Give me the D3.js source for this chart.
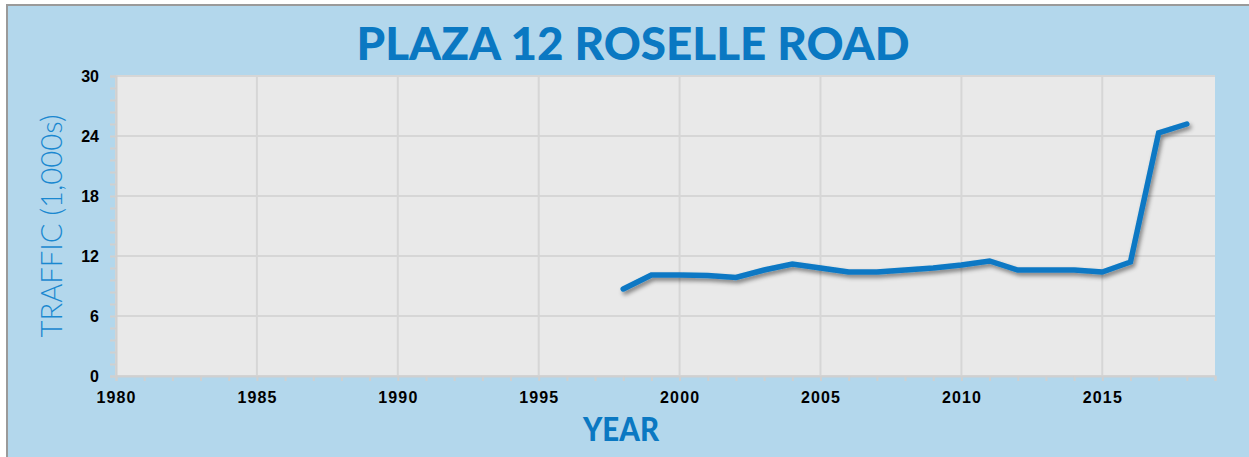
<!DOCTYPE html>
<html>
<head>
<meta charset="utf-8">
<script src="https://cdn.jsdelivr.net/npm/d3@7"></script>
<style>
  body { margin: 0; background: #fff; }
  svg { display: block; }
</style>
</head>
<body>
<svg id="chart" width="1249" height="457"></svg>
<script>
var title = "PLAZA 12 ROSELLE ROAD";
var years = [1998, 1999, 2000, 2001, 2002, 2003, 2004, 2005, 2006, 2007, 2008,
             2009, 2010, 2011, 2012, 2013, 2014, 2015, 2016, 2017, 2018];
var traffic = [8.7, 10.1, 10.1, 10.05, 9.85, 10.6, 11.2, 10.8, 10.4, 10.4, 10.6,
               10.8, 11.1, 11.5, 10.6, 10.6, 10.6, 10.4, 11.4, 24.3, 25.2];
var xTicks = [1980, 1985, 1990, 1995, 2000, 2005, 2010, 2015];
var yTicks = [0, 6, 12, 18, 24, 30];

var svg = d3.select("#chart");
var margin = { left: 116, right: 34, top: 76, bottom: 81 };
var W = 1249, H = 457;

// frame
svg.append("rect").attr("x", 0).attr("y", 0).attr("width", W).attr("height", H).attr("fill", "#fff");
svg.append("rect").attr("x", 7).attr("y", 5).attr("width", W).attr("height", H)
  .attr("fill", "#b3d7ec").attr("stroke", "#9a9a9a").attr("stroke-width", 2);

var x = d3.scaleLinear().domain([1980, 2019]).range([margin.left, W - margin.right]);
var y = d3.scaleLinear().domain([0, 30]).range([H - margin.bottom, margin.top]);

var defs = svg.append("defs");
var f = defs.append("filter").attr("id", "shadow").attr("x", "-5%").attr("y", "-20%")
  .attr("width", "110%").attr("height", "140%");
f.append("feDropShadow").attr("dx", 2).attr("dy", 3).attr("stdDeviation", 2)
  .attr("flood-color", "#000").attr("flood-opacity", 0.45);

// plot area
svg.append("rect")
  .attr("x", x(1980)).attr("y", y(30))
  .attr("width", x(2019) - x(1980)).attr("height", y(0) - y(30))
  .attr("fill", "#e9e9e9");

// gridlines
var grid = svg.append("g").attr("stroke", "#d6d6d6").attr("stroke-width", 2);
grid.selectAll("line.h").data(yTicks).join("line")
  .attr("x1", x(1980)).attr("x2", x(2019))
  .attr("y1", d => y(d)).attr("y2", d => y(d));
grid.selectAll("line.v").data(xTicks).join("line")
  .attr("y1", y(0)).attr("y2", y(30))
  .attr("x1", d => x(d)).attr("x2", d => x(d));

// axes
var xAxis = d3.axisBottom(x).tickValues(d3.range(1980, 2020, 1)).tickSize(5).tickFormat("");
var yAxis = d3.axisLeft(y).tickValues(d3.range(0, 31, 1.2)).tickSize(6).tickFormat("");
var gx = svg.append("g").attr("transform", "translate(0," + y(0) + ")").call(xAxis);
var gy = svg.append("g").attr("transform", "translate(" + x(1980) + ",0)").call(yAxis);
[gx, gy].forEach(function (g) {
  g.select(".domain").attr("stroke", "#d0d0d0").attr("stroke-width", 2);
  g.selectAll(".tick line").attr("stroke", "#d0d0d0").attr("stroke-width", 2);
});

svg.append("g").selectAll("text").data(xTicks).join("text")
  .attr("x", d => x(d)).attr("y", y(0) + 27)
  .attr("text-anchor", "middle")
  .attr("font-family", "Liberation Sans, Arial, sans-serif")
  .attr("font-weight", "bold").attr("font-size", 16).attr("fill", "#000")
  .attr("textLength", 39).attr("lengthAdjust", "spacing")
  .text(d => d);

svg.append("g").selectAll("text").data(yTicks).join("text")
  .attr("x", x(1980) - 17).attr("y", d => y(d) + 6)
  .attr("text-anchor", "end")
  .attr("font-family", "Liberation Sans, Arial, sans-serif")
  .attr("font-weight", "bold").attr("font-size", 16).attr("fill", "#000")
  .text(d => d);

// line
var line = d3.line().x((d, i) => x(years[i])).y(d => y(d));
svg.append("path").datum(traffic)
  .attr("d", line)
  .attr("fill", "none")
  .attr("stroke", "#0a78c4")
  .attr("stroke-width", 5.5)
  .attr("stroke-linecap", "round")
  .attr("stroke-linejoin", "miter")
  .attr("filter", "url(#shadow)");

// titles
svg.append("text")
  .attr("x", 633).attr("y", 60)
  .attr("text-anchor", "middle")
  .attr("font-family", "Lato, 'Open Sans', sans-serif")
  .attr("font-weight", "900").attr("font-size", 46)
  .attr("fill", "#0a78c2")
  .attr("textLength", 553).attr("lengthAdjust", "spacingAndGlyphs")
  .text(title);

svg.append("text")
  .attr("x", 621).attr("y", 441)
  .attr("text-anchor", "middle")
  .attr("font-family", "Lato, 'Open Sans', sans-serif")
  .attr("font-weight", "900").attr("font-size", 32)
  .attr("fill", "#0a78c2")
  .attr("textLength", 76).attr("lengthAdjust", "spacingAndGlyphs")
  .text("YEAR");

svg.append("text")
  .attr("transform", "translate(62,226) rotate(-90)")
  .attr("text-anchor", "middle")
  .attr("font-family", "Lato, 'Open Sans', sans-serif")
  .attr("font-weight", "300").attr("font-size", 30)
  .attr("fill", "#1a88d0")
  .attr("textLength", 223).attr("lengthAdjust", "spacingAndGlyphs")
  .text("TRAFFIC (1,000s)");
</script>
</body>
</html>
